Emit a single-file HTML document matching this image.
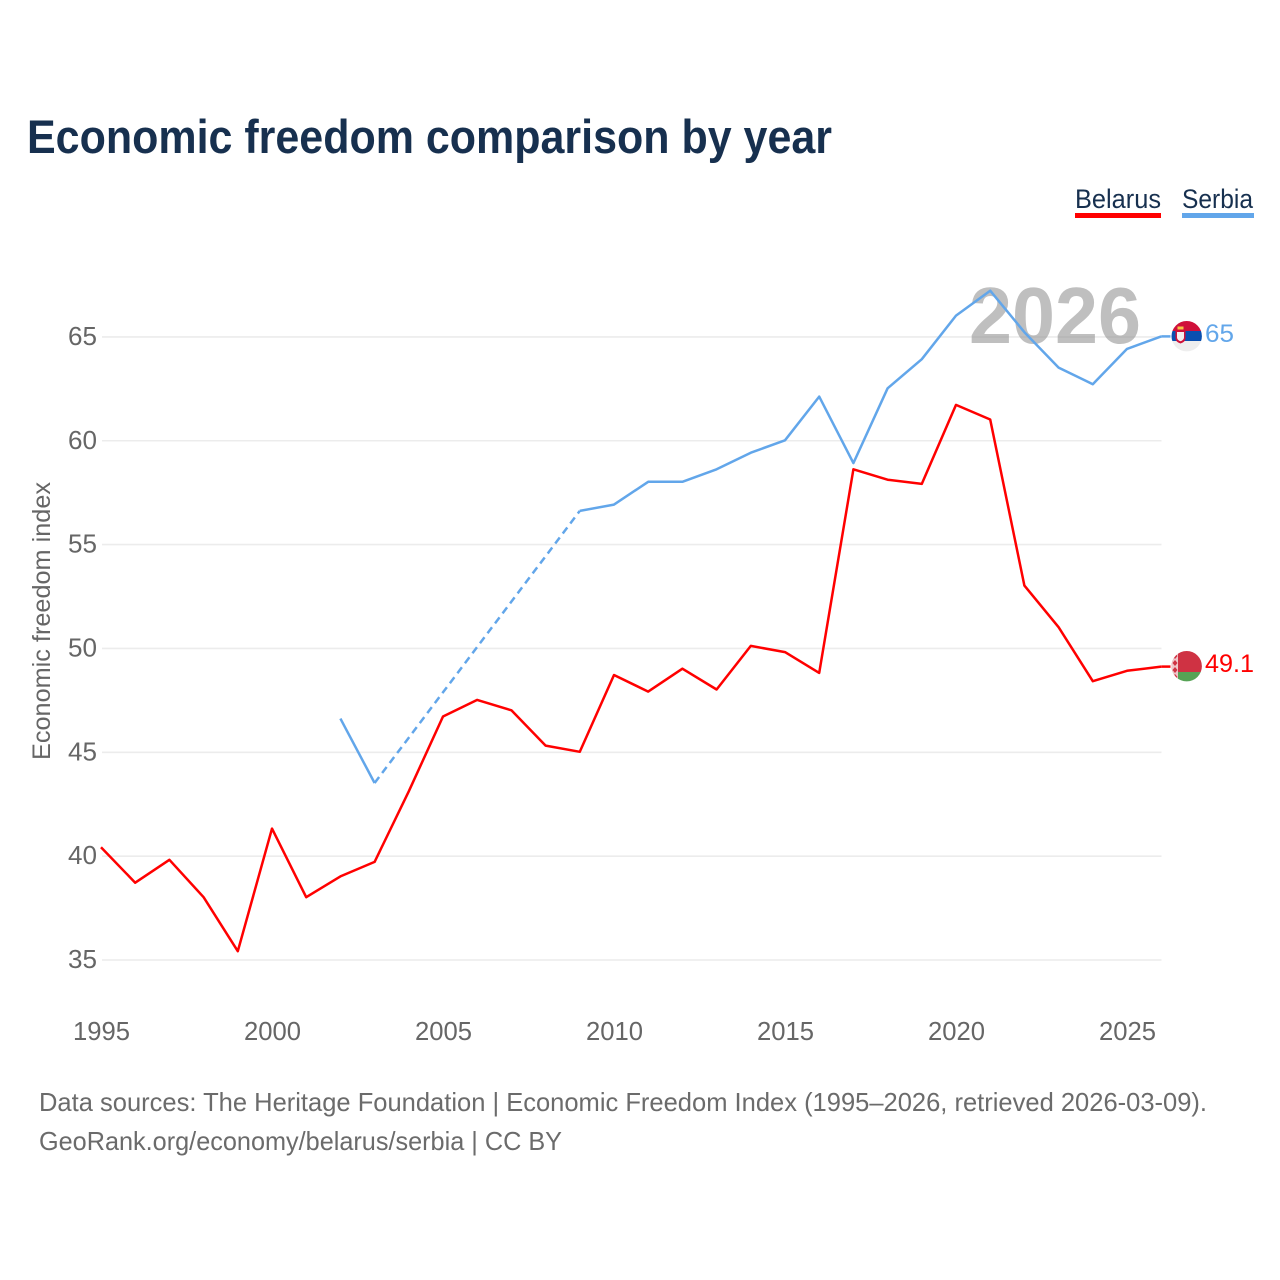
<!DOCTYPE html>
<html lang="en">
<head>
<meta charset="utf-8">
<title>Economic freedom comparison by year</title>
<style>
html,body{margin:0;padding:0;background:#fff;width:1280px;height:1280px;overflow:hidden}
svg{display:block}
text{font-family:"Liberation Sans",Arial,sans-serif}
</style>
</head>
<body>
<svg id="chart" width="1280" height="1280" viewBox="0 0 1280 1280" xmlns="http://www.w3.org/2000/svg">
  <rect width="1280" height="1280" fill="#fff"/>
  <text x="27" y="153" font-size="47" font-weight="700" fill="#17304f" textLength="805" lengthAdjust="spacingAndGlyphs">Economic freedom comparison by year</text>

  <g>
    <g>
      <text x="1075" y="208" font-size="27" fill="#17304f" textLength="86" lengthAdjust="spacingAndGlyphs">Belarus</text>
      <rect x="1075" y="213" width="86" height="5" fill="#ff0000"/>
    </g>
    <g>
      <text x="1182" y="208" font-size="27" fill="#17304f" textLength="71" lengthAdjust="spacingAndGlyphs">Serbia</text>
      <rect x="1182" y="213" width="72" height="5" fill="#62a6ea"/>
    </g>
  </g>

  <g id="grid"></g>
  <g id="yTicks"></g>
  <g id="xTicks"></g>

  <text transform="translate(50,621) rotate(-90)" text-anchor="middle" font-size="25" fill="#666" textLength="278" lengthAdjust="spacingAndGlyphs">Economic freedom index</text>

  <text x="969" y="343" font-size="80" font-weight="700" fill="#8a8a8a" fill-opacity="0.55" textLength="172" lengthAdjust="spacingAndGlyphs">2026</text>

  <g id="series" transform="translate(-0.5,-0.5)"></g>

  <defs>
    <clipPath id="flagClipS"><circle cx="1186.7" cy="336.2" r="15.2"/></clipPath>
    <clipPath id="flagClipB"><circle cx="1186.7" cy="666.2" r="15.2"/></clipPath>
  </defs>

  <g clip-path="url(#flagClipS)">
    <rect x="1171" y="320" width="32" height="11" fill="#d0103a"/>
    <rect x="1171" y="331" width="32" height="10" fill="#0a4fb0"/>
    <rect x="1171" y="341" width="32" height="11" fill="#eeeeee"/>
    <path d="M1175.5 330 h10 v8 q0 4 -5 5.5 q-5 -1.500 -5 -5.500z" fill="#d0103a"/>
    <path d="M1177 332 h7 v5.500 q0 2.500 -3.500 3.800 q-3.500 -1.300 -3.500 -3.800z" fill="#f6eeee"/>
    <rect x="1177.500" y="326.500" width="6" height="3" fill="#f6c445"/>
  </g>
  <text x="1205" y="342" font-size="25" fill="#62a6ea" textLength="29" lengthAdjust="spacingAndGlyphs">65</text>

  <g clip-path="url(#flagClipB)">
    <rect x="1171" y="650" width="32" height="22" fill="#cf3243"/>
    <rect x="1171" y="672" width="32" height="11" fill="#56a355"/>
    <rect x="1171" y="650" width="7" height="33" fill="#f0c6ca"/>
    <path d="M1175 653 l2.500 3 l-2.500 3 l-2.500 -3z M1175 660 l2.500 3 l-2.500 3 l-2.500 -3z M1175 667 l2.500 3 l-2.500 3 l-2.500 -3z M1175 674 l2.500 3 l-2.500 3 l-2.500 -3z" fill="#cf3243"/>
  </g>
  <text x="1205" y="672" font-size="25" fill="#ff0000" textLength="49" lengthAdjust="spacingAndGlyphs">49.1</text>

  <text x="39" y="1111" font-size="26" fill="#6b6b6b" textLength="1168" lengthAdjust="spacingAndGlyphs">Data sources: The Heritage Foundation | Economic Freedom Index (1995–2026, retrieved 2026-03-09).</text>
  <text x="39" y="1150" font-size="26" fill="#6b6b6b" textLength="523" lengthAdjust="spacingAndGlyphs">GeoRank.org/economy/belarus/serbia | CC BY</text>
</svg>
<script>
const years = [1995,1996,1997,1998,1999,2000,2001,2002,2003,2004,2005,2006,2007,2008,2009,2010,2011,2012,2013,2014,2015,2016,2017,2018,2019,2020,2021,2022,2023,2024,2025,2026];
const belarus = [40.4,38.7,39.8,38.0,35.4,41.3,38.0,39.0,39.7,43.1,46.7,47.5,47.0,45.3,45.0,48.7,47.9,49.0,48.0,50.1,49.8,48.8,58.6,58.1,57.9,61.7,61.0,53.0,51.0,48.4,48.9,49.1];
const serbia = [null,null,null,null,null,null,null,46.6,43.5,null,null,null,null,null,56.6,56.9,58.0,58.0,58.6,59.4,60.0,62.1,58.9,62.5,63.9,66.0,67.2,65.2,63.5,62.7,64.4,65.0];
const yTickValues = [35,40,45,50,55,60,65];
const xTickValues = [1995,2000,2005,2010,2015,2020,2025];

const NS = 'http://www.w3.org/2000/svg';
const xScale = function (yr) { return 101.5 + (yr - 1995) * 34.2; };
const yScale = function (v) { return 960 - (v - 35) * 20.77; };

const grid = document.getElementById('grid');
const yTicks = document.getElementById('yTicks');
const xTicks = document.getElementById('xTicks');
const series = document.getElementById('series');

yTickValues.forEach(function (v) {
  const line = document.createElementNS(NS, 'line');
  line.setAttribute('x1', 102);
  line.setAttribute('x2', 1161.5);
  line.setAttribute('y1', yScale(v));
  line.setAttribute('y2', yScale(v));
  line.setAttribute('stroke', '#ececec');
  line.setAttribute('stroke-width', 1.6);
  
  
  grid.appendChild(line);

  const t = document.createElementNS(NS, 'text');
  t.setAttribute('x', 97);
  t.setAttribute('y', yScale(v) + 8);
  t.setAttribute('text-anchor', 'end');
  t.setAttribute('font-size', 25.5);
  t.setAttribute('fill', '#666');
  t.setAttribute('textLength', 29);
  t.setAttribute('lengthAdjust', 'spacingAndGlyphs');
  t.textContent = v;
  
  
  yTicks.appendChild(t);
});

xTickValues.forEach(function (yr) {
  const t = document.createElementNS(NS, 'text');
  t.setAttribute('x', xScale(yr));
  t.setAttribute('y', 1040);
  t.setAttribute('text-anchor', 'middle');
  t.setAttribute('font-size', 25.5);
  t.setAttribute('fill', '#666');
  t.setAttribute('textLength', 57);
  t.setAttribute('lengthAdjust', 'spacingAndGlyphs');
  t.textContent = yr;
  
  
  xTicks.appendChild(t);
});

function addPath(points, color, dashed, name) {
  const p = document.createElementNS(NS, 'path');
  p.setAttribute('d', points.map(function (pt, i) {
    return (i ? 'L' : 'M') + pt[0].toFixed(1) + ' ' + pt[1].toFixed(1);
  }).join(' '));
  p.setAttribute('fill', 'none');
  p.setAttribute('stroke', color);
  p.setAttribute('stroke-width', 2.5);
  p.setAttribute('stroke-linejoin', 'round');
  if (dashed) p.setAttribute('stroke-dasharray', '7.5 5');
  
  
  series.appendChild(p);
}

function drawSeries(values, color, name) {
  let run = [];
  let lastPoint = null;
  values.forEach(function (v, i) {
    if (v === null) {
      if (run.length) {
        addPath(run, color, false, name + '-line');
        run = [];
      }
      return;
    }
    const pt = [xScale(years[i]), yScale(v)];
    if (!run.length && lastPoint) {
      addPath([lastPoint, pt], color, true, name + '-gap-line');
    }
    run.push(pt);
    lastPoint = pt;
  });
  if (run.length) addPath(run, color, false, name + '-line');
  if (lastPoint) addPath([lastPoint, [1171, lastPoint[1]]], color, false, name + '-flag-connector');
}

drawSeries(serbia, '#62a6ea', 'serbia');
drawSeries(belarus, '#ff0000', 'belarus');
</script>
</body>
</html>
